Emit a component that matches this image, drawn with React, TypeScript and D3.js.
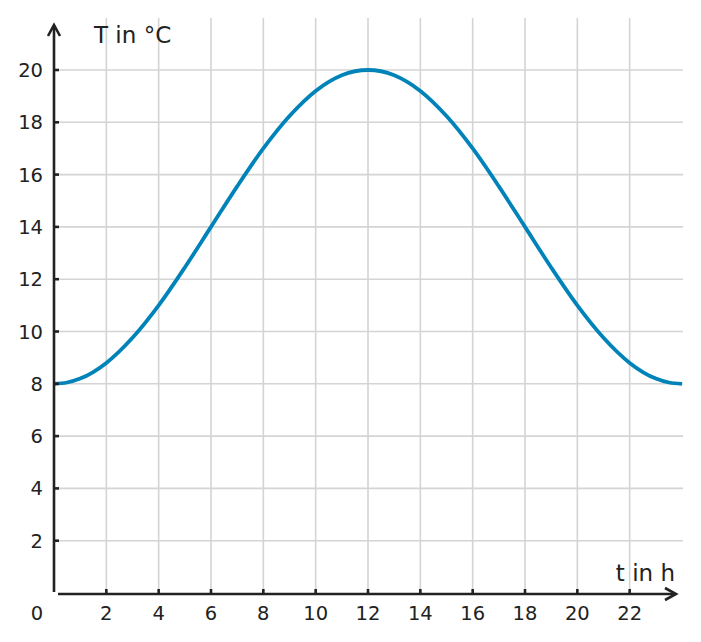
import React from "react";
import * as d3 from "d3";

// hours and temperatures
const hours = [0, 0.5, 1, 2, 3, 4, 5, 6, 7, 8, 9, 10, 11, 12, 13, 14, 15, 16, 17, 18, 19, 20, 21, 22, 23, 23.5, 24];
const temps = [8, 8.05, 8.2, 8.8, 9.76, 11, 12.45, 14, 15.55, 17, 18.24, 19.2, 19.8, 20, 19.8, 19.2, 18.24, 17, 15.55, 14, 12.45, 11, 9.76, 8.8, 8.2, 8.05, 8];
const xTicks = [2, 4, 6, 8, 10, 12, 14, 16, 18, 20, 22];
const yTicks = [2, 4, 6, 8, 10, 12, 14, 16, 18, 20];

const width = 701;
const height = 642;
const font = "DejaVu Sans, sans-serif";
const axisColor = "#222";
const gridColor = "#d4d4d4";
const lineColor = "#0083b8";

const x = d3.scaleLinear().domain([0, 24]).range([54, 682]);
const y = d3.scaleLinear().domain([0, 20]).range([593, 70]);

const line = d3
  .line<number>()
  .x((_, i) => x(hours[i]))
  .y((d) => y(d))
  .curve(d3.curveMonotoneX);

const App = () => {
  const gridRight = 683;
  const gridTop = 18;
  return (
    <svg
      width={width}
      height={height}
      style={{ position: "absolute", left: 0, top: 0 }}
      fontFamily={font}
    >
      <rect width={width} height={height} fill="#fff" />
      {/* grid */}
      <g stroke={gridColor} strokeWidth={1.6}>
        {yTicks.map((t) => (
          <line key={"h" + t} x1={x(0)} x2={gridRight} y1={y(t)} y2={y(t)} />
        ))}
        {xTicks.map((t) => (
          <line key={"v" + t} x1={x(t)} x2={x(t)} y1={gridTop} y2={y(0)} />
        ))}
      </g>
      {/* curve */}
      <path
        d={line(temps) || ""}
        fill="none"
        stroke={lineColor}
        strokeWidth={3.8}
        strokeLinejoin="round"
      />
      {/* axes */}
      <g stroke={axisColor} strokeWidth={2.6} fill="none" strokeLinecap="butt">
        <line x1={x(0)} x2={x(0)} y1={26} y2={y(0) - 1} />
        <polyline points={`${x(0) - 6},${36} ${x(0)},${25} ${x(0) + 6},${36}`} strokeLinejoin="miter" />
        <line x1={x(0) + 4} x2={675} y1={y(0) + 1} y2={y(0) + 1} />
        <polyline points={`${665},${y(0) + 1 - 6} ${676},${y(0) + 1} ${665},${y(0) + 1 + 6}`} />
        {yTicks.map((t) => (
          <line key={"yt" + t} x1={x(0)} x2={x(0) + 5} y1={y(t)} y2={y(t)} />
        ))}
        {xTicks.map((t) => (
          <line key={"xt" + t} x1={x(t)} x2={x(t)} y1={y(0) + 1} y2={y(0) - 4} />
        ))}
      </g>
      {/* tick labels */}
      <g fill={axisColor} fontSize={19.5}>
        {yTicks.map((t) => (
          <text key={"yl" + t} x={43} y={y(t)} dy="0.36em" textAnchor="end">
            {t}
          </text>
        ))}
        {xTicks.map((t) => (
          <text key={"xl" + t} x={x(t)} y={620} textAnchor="middle">
            {t}
          </text>
        ))}
        <text x={37} y={620} textAnchor="middle">
          0
        </text>
      </g>
      <g fill={axisColor} fontSize={23}>
        <text x={94} y={43}>
          T in °C
        </text>
        <text x={675} y={581} textAnchor="end">
          t in h
        </text>
      </g>
    </svg>
  );
};

export default App;
